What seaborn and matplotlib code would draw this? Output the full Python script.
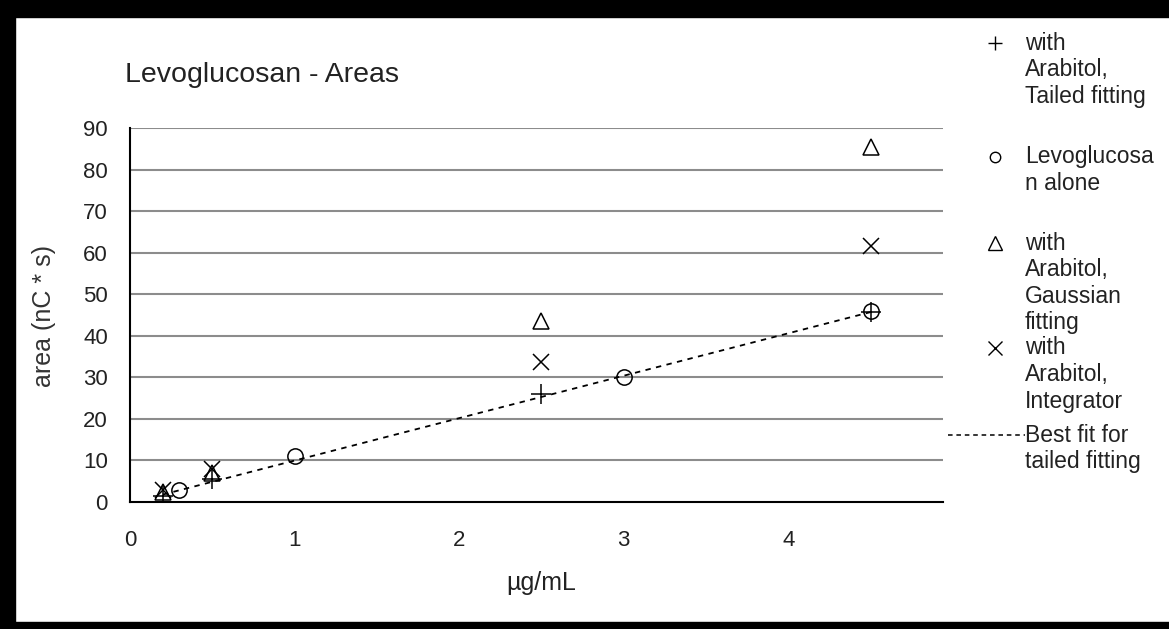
import matplotlib
matplotlib.use("Agg")
import matplotlib.pyplot as plt
import seaborn as sns
import pandas as pd
from matplotlib.lines import Line2D
from matplotlib.patches import Rectangle

# data
tailed_x = [0.2, 0.5, 2.5, 4.5]
tailed_y = [1.5, 5.5, 26.0, 45.7]

alone_x = [0.3, 1.0, 3.0, 4.5]
alone_y = [2.8, 11.0, 30.0, 46.0]

gauss_x = [0.2, 0.5, 2.5, 4.5]
gauss_y = [2.5, 7.0, 43.5, 85.5]

integ_x = [0.2, 0.5, 2.5, 4.5]
integ_y = [3.0, 8.0, 33.8, 61.7]

fit_x = [0.2, 4.5]
fit_y = [1.8, 45.7]

x_ticks = [0, 1, 2, 3, 4]
y_ticks = [0, 10, 20, 30, 40, 50, 60, 70, 80, 90]

legend_labels = [
    "with\nArabitol,\nTailed fitting",
    "Levoglucosa\nn alone",
    "with\nArabitol,\nGaussian\nfitting",
    "with\nArabitol,\nIntegrator",
    "Best fit for\ntailed fitting",
]

sns.set_style("white")
plt.rcParams["font.family"] = ["Liberation Sans", "DejaVu Sans"]

W, H = 1169, 629
fig = plt.figure(figsize=(W / 100, H / 100), dpi=100)
ax = fig.add_axes([130 / W, 1 - 502 / H, (943 - 130) / W, (502 - 128) / H])

for y in y_ticks[1:]:
    ax.axhline(y, color="#8c8c8c", lw=1.5, zorder=0)

sns.lineplot(x=fit_x, y=fit_y, ax=ax, color="black", lw=1.3,
             linestyle=(0, (3, 3)), zorder=2)

series = [
    (tailed_x, tailed_y, "+", 15, "black"),
    (alone_x, alone_y, "o", 11, "none"),
    (gauss_x, gauss_y, "^", 12, "none"),
    (integ_x, integ_y, "x", 12, "black"),
]
for xs, ys, mk, ms, fc in series:
    df = pd.DataFrame({"x": xs, "y": ys})
    sns.lineplot(data=df, x="x", y="y", ax=ax, marker=mk, markersize=ms,
                 linestyle="none", markerfacecolor=fc,
                 markeredgecolor="black", markeredgewidth=1.1,
                 color="black", zorder=3)

ax.set_xlim(0, 4.94)
ax.set_ylim(0, 90)
ax.set_xticks(x_ticks)
ax.set_yticks(y_ticks)
ax.tick_params(axis="both", labelsize=16, direction="out", length=6,
               width=1.2, color="black", labelcolor="#222222")
ax.tick_params(axis="x", pad=14)
ax.tick_params(axis="y", pad=10)
for s in ["top", "right"]:
    ax.spines[s].set_visible(False)
for s in ["left", "bottom"]:
    ax.spines[s].set_color("black")
    ax.spines[s].set_linewidth(1.5)
ax.set_xlabel("")
ax.set_ylabel("")

fig.text(541 / W, 1 - 583 / H, "µg/mL", fontsize=18, ha="center",
         va="center", color="#222222")
fig.text(44 / W, 1 - 316 / H, "area (nC * s)", fontsize=18, ha="center",
         va="center", rotation=90, color="#333333")
fig.text(125 / W, 1 - 75 / H, "Levoglucosan - Areas", fontsize=20.5,
         ha="left", va="center", color="#222222")

# legend drawn by hand to keep the Excel-like spacing
leg_y = [43, 157, 243, 348, 435]
leg_mk = ["+", "o", "^", "x", None]
leg_ms = [10, 7.5, 10, 10, 0]
for y, mk, ms, lab in zip(leg_y, leg_mk, leg_ms, legend_labels):
    if mk is None:
        fig.add_artist(Line2D([948 / W, 1025 / W], [1 - y / H, 1 - y / H],
                              color="black", lw=1.1, linestyle=(0, (3, 2.5))))
    else:
        fig.add_artist(Line2D([995 / W], [1 - y / H], marker=mk,
                              markersize=ms, markerfacecolor="none",
                              markeredgecolor="black", markeredgewidth=1.0,
                              linestyle="none"))
    fig.text(1025 / W, 1 - (y - 11.5) / H, lab, fontsize=16.5, ha="left",
             va="top", linespacing=1.2, color="#222222")

# black frame on top, left and bottom
fig.add_artist(Rectangle((0, 1 - 17 / H), 1, 17 / H, transform=fig.transFigure,
                         color="black"))
fig.add_artist(Rectangle((0, 0), 15 / W, 1, transform=fig.transFigure,
                         color="black"))
fig.add_artist(Rectangle((0, 0), 1, 7 / H, transform=fig.transFigure,
                         color="black"))

fig.savefig("out.png", dpi=100)
